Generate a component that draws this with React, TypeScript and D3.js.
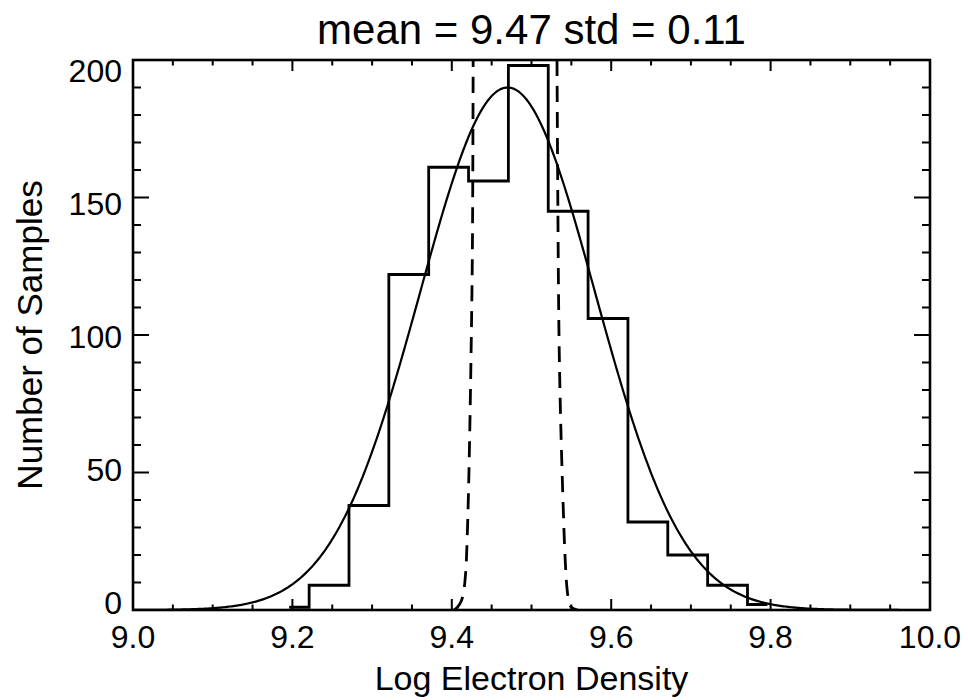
import React from "react";
import * as d3 from "d3";

// Histogram (IDL psym=10 style steps): bin centres and counts
const binCenters = [9.196, 9.246, 9.296, 9.346, 9.396, 9.446, 9.496, 9.546, 9.596, 9.646, 9.696, 9.746, 9.796];
const binCounts = [1, 9, 38, 122, 161, 156, 198, 145, 106, 32, 20, 9, 2];

// Gaussian fit (solid), parameters as given by the title
const fitMean = 9.47;
const fitStd = 0.11;
const fitPeak = 190;

// Dashed curve, left branch
const dashLeftX = [9.403, 9.407, 9.4115, 9.4145, 9.4175, 9.4195, 9.4215, 9.4240, 9.4258, 9.4268];
const dashLeftY = [0, 1, 3, 6, 14, 28, 50, 90, 130, 200];
// Dashed curve, right branch
const dashRightX = [9.532, 9.533, 9.5345, 9.5365, 9.5395, 9.542, 9.5445, 9.5470, 9.5500, 9.5580];
const dashRightY = [200, 150, 100, 70, 40, 20, 8, 3, 1, 0];

const xTickLabels = ["9.0", "9.2", "9.4", "9.6", "9.8", "10.0"];
const xTickValues = [9.0, 9.2, 9.4, 9.6, 9.8, 10.0];
const yTickValues = [0, 50, 100, 150, 200];

const title = "mean = 9.47 std = 0.11";
const xTitle = "Log Electron Density";
const yTitle = "Number of Samples";

const W = 968;
const H = 700;
const M = { left: 133, right: 930, top: 60, bottom: 610 };
const FONT = "'Liberation Sans', Arial, Helvetica, sans-serif";

export default function App() {
  const x = d3.scaleLinear().domain([9, 10]).range([M.left, M.right]);
  const y = d3.scaleLinear().domain([0, 200]).range([M.bottom, M.top]);

  // step path
  const stepPts: [number, number][] = [];
  for (let i = 0; i < binCenters.length; i++) {
    const xl = i === 0 ? binCenters[0] : (binCenters[i - 1] + binCenters[i]) / 2;
    const xr = i === binCenters.length - 1 ? binCenters[i] : (binCenters[i] + binCenters[i + 1]) / 2;
    stepPts.push([xl, binCounts[i]]);
    stepPts.push([xr, binCounts[i]]);
  }
  const line = d3.line<[number, number]>().x((d) => x(d[0])).y((d) => y(d[1]));
  const smooth = d3.line<[number, number]>().x((d) => x(d[0])).y((d) => y(d[1])).curve(d3.curveCatmullRom);

  const gauss = (v: number) => fitPeak * Math.exp(-((v - fitMean) ** 2) / (2 * fitStd * fitStd));
  const fitPts: [number, number][] = d3.range(9.0, 10.0001, 0.002).map((v) => [v, gauss(v)]);

  const leftPts: [number, number][] = dashLeftX.map((v, i) => [v, dashLeftY[i]]);
  const rightPts: [number, number][] = dashRightX.map((v, i) => [v, dashRightY[i]]);

  const xMinor = d3.range(9.0, 10.0001, 0.05);
  const yMinor = d3.range(0, 200.001, 10);
  const xMajLen = 11, xMinLen = 5.5, yMajLen = 16, yMinLen = 8;

  const isMajorX = (v: number) => Math.abs(v * 5 - Math.round(v * 5)) < 1e-6;
  const isMajorY = (v: number) => Math.abs(v % 50) < 1e-6;

  return (
    <svg width={W} height={H} style={{ position: "absolute", left: 0, top: 0, background: "#fff" }} fontFamily={FONT}>
      <rect x={0} y={0} width={W} height={H} fill="#fff" />
      {/* ticks */}
      <g stroke="#000" strokeWidth={2}>
        {xMinor.map((v, i) => {
          const len = isMajorX(v) ? xMajLen : xMinLen;
          return (
            <g key={"xt" + i}>
              <line x1={x(v)} x2={x(v)} y1={M.bottom} y2={M.bottom - len} />
              <line x1={x(v)} x2={x(v)} y1={M.top} y2={M.top + len} />
            </g>
          );
        })}
        {yMinor.map((v, i) => {
          const len = isMajorY(v) ? yMajLen : yMinLen;
          return (
            <g key={"yt" + i}>
              <line x1={M.left} x2={M.left + len} y1={y(v)} y2={y(v)} />
              <line x1={M.right} x2={M.right - len} y1={y(v)} y2={y(v)} />
            </g>
          );
        })}
      </g>
      {/* histogram */}
      <path d={line(stepPts) || ""} fill="none" stroke="#000" strokeWidth={2.8} strokeLinejoin="miter" />
      {/* fit */}
      <path d={line(fitPts) || ""} fill="none" stroke="#000" strokeWidth={2.2} />
      {/* dashed */}
      <path d={smooth(leftPts) || ""} fill="none" stroke="#000" strokeWidth={2.8} strokeDasharray="16,10" />
      <path d={smooth(rightPts) || ""} fill="none" stroke="#000" strokeWidth={2.8} strokeDasharray="16,10" />
      {/* frame */}
      <rect x={M.left} y={M.top} width={M.right - M.left} height={M.bottom - M.top} fill="none" stroke="#000" strokeWidth={2.6} />
      {/* labels */}
      <g fontSize={32} fill="#000">
        {xTickValues.map((v, i) => (
          <text key={"xl" + i} x={x(v)} y={648} textAnchor="middle">{xTickLabels[i]}</text>
        ))}
        {yTickValues.map((v, i) => (
          <text key={"yl" + i} x={122} y={y(v) + 4 + (18 * v) / 200} textAnchor="end">{String(v)}</text>
        ))}
      </g>
      <text x={(M.left + M.right) / 2} y={44} textAnchor="middle" fontSize={42} fill="#000">{title}</text>
      <text x={(M.left + M.right) / 2} y={690} textAnchor="middle" fontSize={34} fill="#000">{xTitle}</text>
      <text transform={`translate(42, ${(M.top + M.bottom) / 2}) rotate(-90)`} textAnchor="middle" fontSize={35} fill="#000">{yTitle}</text>
    </svg>
  );
}
